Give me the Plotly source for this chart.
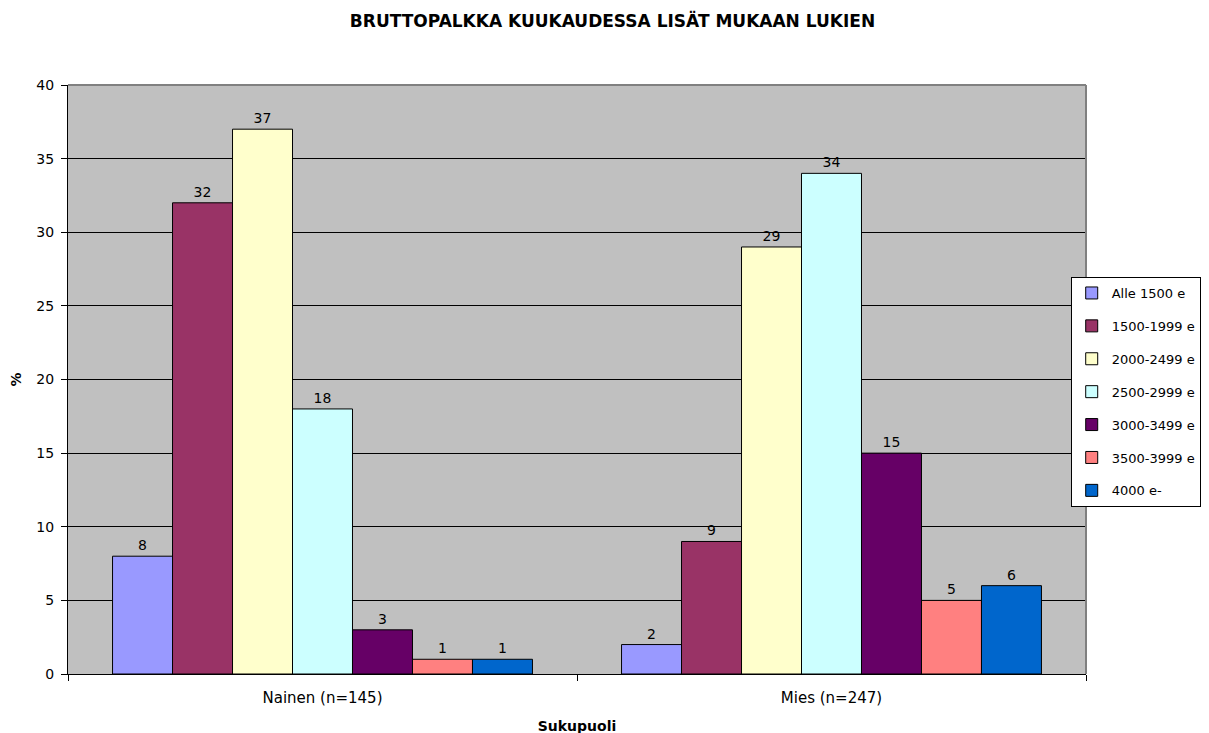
import plotly.graph_objects as go

# data
categories = ["Nainen (n=145)", "Mies (n=247)"]
series_names = ["Alle 1500 e", "1500-1999 e", "2000-2499 e", "2500-2999 e",
                "3000-3499 e", "3500-3999 e", "4000 e-"]
values = {
    "Alle 1500 e": [8, 2],
    "1500-1999 e": [32, 9],
    "2000-2499 e": [37, 29],
    "2500-2999 e": [18, 34],
    "3000-3499 e": [3, 15],
    "3500-3999 e": [1, 5],
    "4000 e-": [1, 6],
}
colors = ["#9999FF", "#993366", "#FFFFCC", "#CCFFFF", "#660066", "#FF8080", "#0066CC"]

FONT = "DejaVu Sans"

fig = go.Figure()
for name, col in zip(series_names, colors):
    fig.add_trace(go.Bar(
        x=categories, y=values[name], name=name, legendgroup=name,
        marker=dict(color=col, line=dict(color="#000000", width=1)),
        text=values[name], textposition="outside", cliponaxis=False,
        textfont=dict(family=FONT, size=14, color="#000000"),
    ))

# page body has an 8px margin, so the margins are shifted to compensate
fig.update_layout(
    width=1209, height=733,
    margin=dict(l=60, r=131, t=77, b=67, autoexpand=False),
    paper_bgcolor="#FFFFFF", plot_bgcolor="#C0C0C0",
    font=dict(family=FONT, size=14, color="#000000"),
    title=dict(text="<b>BRUTTOPALKKA KUUKAUDESSA LISÄT MUKAAN LUKIEN</b>",
               x=0.5, xref="container", y=0.982, yanchor="middle",
               font=dict(size=17)),
    barmode="group", bargap=0.175, bargroupgap=0,
    showlegend=True,
    legend=dict(xref="container", yref="container", x=0.879, y=0.633,
                xanchor="left", yanchor="top",
                bgcolor="#FFFFFF", bordercolor="#000000", borderwidth=1,
                tracegroupgap=13, itemwidth=30, font=dict(size=13)),
)
fig.update_xaxes(
    automargin=False,
    tickson="boundaries", ticks="outside", ticklen=6, tickcolor="#000000",
    ticklabelstandoff=10, tickfont=dict(size=15),
    showline=True, linecolor="#000000", linewidth=1, mirror=False,
    title=dict(text="<b>Sukupuoli</b>", standoff=15, font=dict(size=14)),
    showgrid=False,
)
fig.update_yaxes(
    automargin=False,
    range=[0, 40], dtick=5, ticks="outside", ticklen=6, tickcolor="#000000",
    ticklabelstandoff=4,
    showline=True, linecolor="#000000", linewidth=1,
    showgrid=True, gridcolor="#000000", gridwidth=1, zeroline=False,
    title=dict(text="<b>%</b>", standoff=12, font=dict(size=14)),
)
# grey frame on top and right of the plot area
fig.add_shape(type="line", xref="paper", yref="paper", x0=0, x1=1, y0=1, y1=1,
              line=dict(color="#808080", width=2))
fig.add_shape(type="line", xref="paper", yref="paper", x0=1, x1=1, y0=0, y1=1,
              line=dict(color="#808080", width=2))

fig.write_html("out.html")
